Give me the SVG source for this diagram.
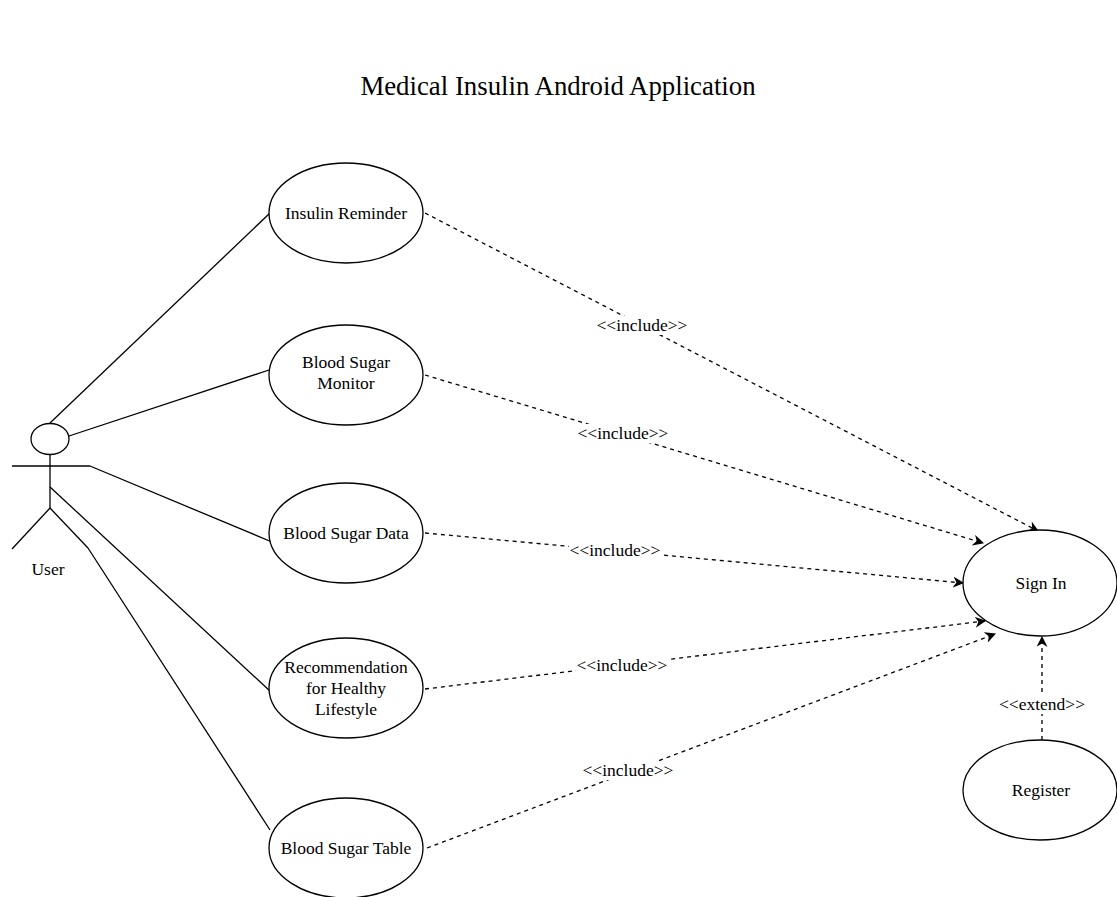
<svg xmlns="http://www.w3.org/2000/svg" width="1117" height="897" viewBox="0 0 1117 897">
  <style>
    .uc { fill: #ffffff; stroke: #000000; stroke-width: 1.3; }
    .txt { font-family: "Liberation Serif", "Times New Roman", serif; font-size: 17.5px; fill: #000000; text-anchor: middle; }
    .title { font-family: "Liberation Serif", "Times New Roman", serif; font-size: 26.8px; fill: #000000; text-anchor: middle; }
    .assoc { stroke: #000000; stroke-width: 1.3; fill: none; }
    .dep { stroke: #000000; stroke-width: 1.3; fill: none; stroke-dasharray: 4 4; marker-end: url(#arrow); }
    .lblbg { fill: #ffffff; }
  </style>
  <defs>
    <marker id="arrow" viewBox="0 0 10 10" refX="9" refY="5" markerWidth="11" markerHeight="11" markerUnits="userSpaceOnUse" orient="auto">
      <path d="M0,0 L10,5 L0,10 L3,5 z" fill="#000000"/>
    </marker>
  </defs>
  <rect width="1117" height="897" fill="#ffffff"/>

  <text class="title" x="558" y="95">Medical Insulin Android Application</text>

  <!-- actor -->
  <g id="user">
    <ellipse cx="50" cy="439" rx="19" ry="15.5" fill="#ffffff" stroke="#000" stroke-width="1.3"/>
    <line class="assoc" x1="50" y1="455" x2="50" y2="508"/>
    <line class="assoc" x1="12" y1="466" x2="90" y2="466"/>
    <line class="assoc" x1="50" y1="508" x2="12" y2="549"/>
    <line class="assoc" x1="50" y1="508" x2="88" y2="548"/>
    <text class="txt" x="48" y="575">User</text>
  </g>

  <!-- associations and dependencies -->
  <g id="connectors">
    <line class="assoc" x1="50" y1="423" x2="270" y2="213"/>
    <line class="assoc" x1="69" y1="436" x2="269" y2="370"/>
    <line class="assoc" x1="90" y1="466" x2="272" y2="542"/>
    <line class="assoc" x1="50" y1="487" x2="271" y2="692"/>
    <line class="assoc" x1="88" y1="548" x2="270" y2="830"/>

    <line class="dep" x1="425" y1="213" x2="1038" y2="531"/>
    <line class="dep" x1="425" y1="375" x2="983" y2="543"/>
    <line class="dep" x1="425" y1="533" x2="963" y2="583"/>
    <line class="dep" x1="425" y1="689" x2="985" y2="621"/>
    <line class="dep" x1="427" y1="848" x2="995" y2="634"/>
    <line class="dep" x1="1042" y1="740" x2="1042" y2="637"/>

    <rect class="lblbg" x="596" y="316" width="92" height="19"/>
    <text class="txt" x="642" y="331">&lt;&lt;include&gt;&gt;</text>
    <rect class="lblbg" x="577" y="424" width="92" height="19"/>
    <text class="txt" x="623" y="439">&lt;&lt;include&gt;&gt;</text>
    <rect class="lblbg" x="569" y="541" width="92" height="19"/>
    <text class="txt" x="615" y="556">&lt;&lt;include&gt;&gt;</text>
    <rect class="lblbg" x="576" y="656" width="92" height="19"/>
    <text class="txt" x="622" y="671">&lt;&lt;include&gt;&gt;</text>
    <rect class="lblbg" x="582" y="761" width="92" height="19"/>
    <text class="txt" x="628" y="776">&lt;&lt;include&gt;&gt;</text>
    <rect class="lblbg" x="993" y="695" width="98" height="19"/>
    <text class="txt" x="1042" y="710">&lt;&lt;extend&gt;&gt;</text>
  </g>

  <g id="insulin-reminder">
    <ellipse class="uc" cx="346" cy="213" rx="77" ry="50"/>
    <text class="txt" x="346" y="219">Insulin Reminder</text>
  </g>
  <g id="blood-sugar-monitor">
    <ellipse class="uc" cx="346" cy="375" rx="77" ry="50"/>
    <text class="txt" x="346" y="368">Blood Sugar</text>
    <text class="txt" x="346" y="389">Monitor</text>
  </g>
  <g id="blood-sugar-data">
    <ellipse class="uc" cx="346" cy="533" rx="77" ry="50"/>
    <text class="txt" x="346" y="539">Blood Sugar Data</text>
  </g>
  <g id="recommendation">
    <ellipse class="uc" cx="346" cy="688" rx="77" ry="50"/>
    <text class="txt" x="346" y="673">Recommendation</text>
    <text class="txt" x="346" y="694">for Healthy</text>
    <text class="txt" x="346" y="715">Lifestyle</text>
  </g>
  <g id="blood-sugar-table">
    <ellipse class="uc" cx="346" cy="848" rx="77" ry="50"/>
    <text class="txt" x="346" y="854">Blood Sugar Table</text>
  </g>
  <g id="sign-in">
    <ellipse class="uc" cx="1040" cy="583" rx="77" ry="53"/>
    <text class="txt" x="1041" y="589">Sign In</text>
  </g>
  <g id="register">
    <ellipse class="uc" cx="1040" cy="790" rx="77" ry="50"/>
    <text class="txt" x="1041" y="796">Register</text>
  </g>
</svg>
